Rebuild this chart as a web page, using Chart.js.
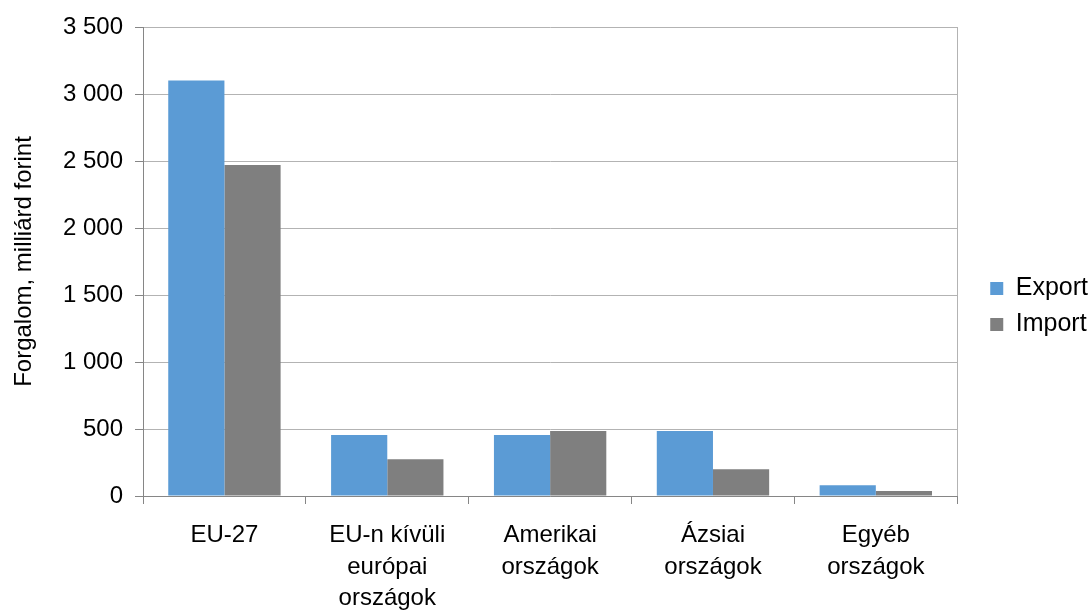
<!DOCTYPE html>
<html lang="hu">
<head>
<meta charset="utf-8">
<title>Forgalom országcsoportok szerint</title>
<script src="https://cdn.jsdelivr.net/npm/chart.js@4/dist/chart.umd.min.js"></script>
<style>
  html, body { margin: 0; padding: 0; background: #fff; }
  #wrap { width: 1092px; height: 612px; }
</style>
</head>
<body>
<div id="wrap"><canvas id="chart" width="1092" height="612"></canvas></div>
<script>
// országcsoportok (többsoros címkék)
const categories = [
  ["EU-27"],
  ["EU-n kívüli", "európai", "országok"],
  ["Amerikai", "országok"],
  ["Ázsiai", "országok"],
  ["Egyéb", "országok"],
];
const seriesNames = ["Export", "Import"];
const exportValues = [3100, 455, 455, 485, 80];
const importValues = [2470, 275, 485, 200, 38];
const yTicks = [0, 500, 1000, 1500, 2000, 2500, 3000, 3500];

const FONT = "'Liberation Sans', Arial, sans-serif";
const AXIS = "#868686";
const GRID = "#b3b3b3";

// ezres tagolás szóközzel
const fmt = (v) => String(v).replace(/\B(?=(\d{3})+(?!\d))/g, " ");

// a rajzterület jobb oldali kerete
const plotBorder = {
  id: "plotBorder",
  afterDatasetsDraw(chart) {
    const { ctx, chartArea } = chart;
    ctx.save();
    ctx.strokeStyle = GRID;
    ctx.lineWidth = 1;
    ctx.beginPath();
    ctx.moveTo(Math.round(chartArea.right) + 0.5, chartArea.top);
    ctx.lineTo(Math.round(chartArea.right) + 0.5, chartArea.bottom);
    ctx.stroke();
    ctx.restore();
  },
};

// jelmagyarázat kicsit jobbra és feljebb tolva
const legendShift = {
  id: "legendShift",
  afterLayout(chart) {
    const lg = chart.legend;
    if (lg) {
      lg.left += 22;
      lg.right += 22;
      lg.top -= 13;
      lg.bottom -= 13;
    }
  },
};

const ctx = document.getElementById("chart").getContext("2d");
new Chart(ctx, {
  type: "bar",
  data: {
    labels: categories,
    datasets: [
      {
        label: seriesNames[0],
        data: exportValues,
        backgroundColor: "#5b9bd5",
        borderWidth: 0,
      },
      {
        label: seriesNames[1],
        data: importValues,
        backgroundColor: "#7f7f7f",
        borderWidth: 0,
      },
    ],
  },
  options: {
    responsive: false,
    animation: false,
    devicePixelRatio: 1,
    categoryPercentage: 0.69,
    barPercentage: 1,
    layout: {
      padding: { top: 27, right: 16, bottom: 0, left: 0 },
    },
    scales: {
      x: {
        grid: {
          offset: true,
          drawOnChartArea: false,
          drawTicks: true,
          tickLength: 8,
          color: AXIS,
        },
        border: { color: AXIS, width: 1 },
        ticks: {
          color: "#000",
          font: { family: FONT, size: 24, lineHeight: 1.33 },
          padding: 15,
          maxRotation: 0,
          autoSkip: false,
        },
        afterFit(scale) {
          scale.height = 116;
        },
      },
      y: {
        min: 0,
        max: 3500,
        afterBuildTicks(scale) {
          scale.ticks = yTicks.map((v) => ({ value: v }));
        },
        grid: {
          color: GRID,
          tickColor: AXIS,
          tickLength: 8,
        },
        border: { color: AXIS, width: 1 },
        ticks: {
          color: "#000",
          font: { family: FONT, size: 24 },
          padding: 12,
          callback: (v) => fmt(v),
        },
        title: {
          display: true,
          text: "Forgalom, milliárd forint",
          color: "#000",
          font: { family: FONT, size: 24 },
          padding: { top: 10, bottom: 0 },
        },
        afterFit(scale) {
          scale.width = 143;
        },
      },
    },
    plugins: {
      legend: {
        position: "right",
        align: "center",
        labels: {
          boxWidth: 13,
          boxHeight: 13,
          padding: 11,
          color: "#000",
          font: { family: FONT, size: 25 },
        },
      },
      tooltip: { enabled: false },
    },
  },
  plugins: [plotBorder, legendShift],
});
</script>
</body>
</html>
